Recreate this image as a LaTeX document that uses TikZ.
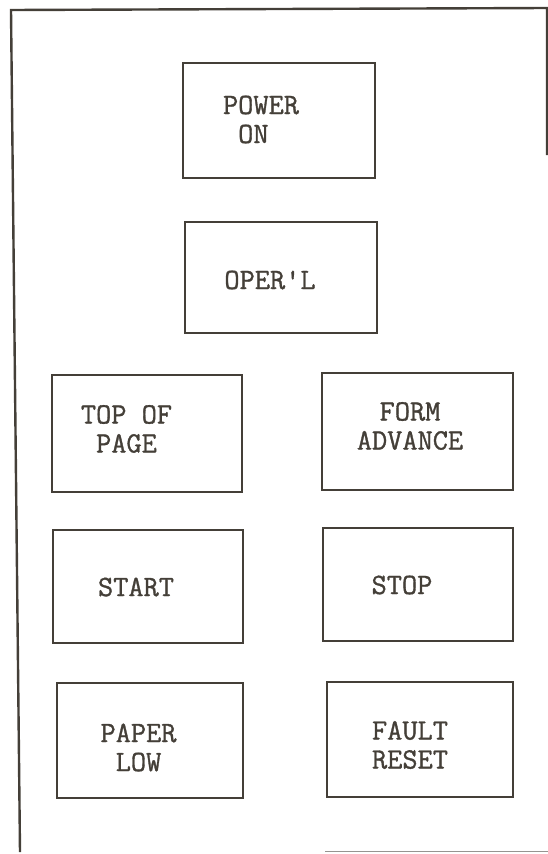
\documentclass[tikz,border=0pt]{standalone}
\usepackage{fontspec}
\newfontfamily\keyfont[AutoFakeBold=1.1]{Latin Modern Mono}
\usepackage{xcolor}
\usepackage{tikz}
\usetikzlibrary{positioning,calc}
\definecolor{clrInk}{RGB}{68,63,56}
\definecolor{clrFaint}{RGB}{150,148,145}
\tikzset{
  keycap/.style={rectangle,draw=clrInk,line width=2.4pt,fill=none,inner sep=0pt},
  keytext/.style={font=\fontsize{29.5}{29}\selectfont\keyfont\bfseries,text=clrInk,
    align=left,inner sep=0pt},
  frame/.style={draw=clrInk,line width=2.4pt},
  faint/.style={draw=clrFaint,line width=1pt}
}

\begin{document}
\begin{tikzpicture}[x=1pt,y=-1pt]
  \useasboundingbox (0,0) rectangle (548,854);

  % panel outline
  \coordinate (ftl) at (11,10);
  \coordinate (fbl) at (20,852);
  \coordinate (ftr) at (547,8);
  \coordinate (frr) at (547,155);
  \coordinate (fbm) at (325,851);
  \coordinate (fbr) at (548,851);
  \draw[frame] (fbl) -- (ftl) -- (ftr) -- (frr);
  \draw[faint] (fbm) -- (fbr);

  % keys
  \node[keycap,minimum width=192pt,minimum height=115pt] (power) at (279,120.5) {};
  \node[keycap,minimum width=192pt,minimum height=111pt] (operl) at (281,277.5) {};
  \node[keycap,minimum width=190pt,minimum height=117pt] (topofpage) at (147,433.5) {};
  \node[keycap,minimum width=191pt,minimum height=117pt] (formadv) at (417.5,431.5) {};
  \node[keycap,minimum width=190pt,minimum height=113pt] (start) at (148,586.5) {};
  \node[keycap,minimum width=190pt,minimum height=113pt] (stop) at (418,584.5) {};
  \node[keycap,minimum width=186pt,minimum height=115pt] (paperlow) at (150,740.5) {};
  \node[keycap,minimum width=186pt,minimum height=115pt] (faultreset) at (420,739.5) {};

  % key legends
  \node[keytext] (powerlbl) at ($(power.center)+(-18,-1)$) {POWER\\\ ON};
  \node[keytext] (operllbl) at ($(operl.center)+(-11,2.5)$) {OPER'L};
  \node[keytext] (topofpagelbl) at ($(topofpage.center)+(-20.5,-4.5)$) {TOP OF\\\ PAGE};
  \node[keytext,align=center] (formadvlbl) at ($(formadv.center)+(-7.5,-5.5)$) {FORM\\ADVANCE};
  \node[keytext] (startlbl) at ($(start.center)+(-12,0.5)$) {START};
  \node[keytext] (stoplbl) at ($(stop.center)+(-16,0.5)$) {STOP};
  \node[keytext,align=center] (paperlowlbl) at ($(paperlow.center)+(-11.5,7)$) {PAPER\\LOW};
  \node[keytext,align=center] (faultresetlbl) at ($(faultreset.center)+(-10,5.5)$) {FAULT\\RESET};
\end{tikzpicture}
\end{document}
